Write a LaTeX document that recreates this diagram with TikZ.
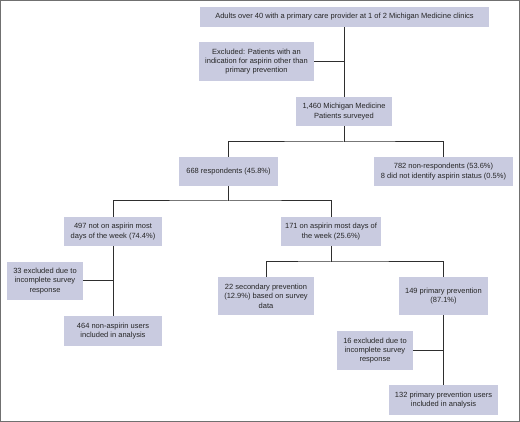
\documentclass[tikz,border=0pt]{standalone}
\usepackage{fontspec}
\setmainfont{Liberation Sans}
\definecolor{boxfill}{HTML}{C9CBE0}
\definecolor{linecol}{HTML}{2E2E2E}
\definecolor{framecol}{HTML}{707070}
\begin{document}
\begin{tikzpicture}[x=1pt,y=-1pt,
  box/.style={fill=boxfill,draw=none,inner sep=0pt,align=center,
    font=\fontsize{7.5}{9.4}\selectfont,text=black!85},
  conn/.style={draw=linecol,line width=1pt}]
\useasboundingbox (0,0) rectangle (520,422);
\draw[framecol,line width=1.4pt] (0.7,0.7) rectangle (519.3,421.3);

\node[box,minimum width=289pt,minimum height=20pt] (b1) at (344.5,17) {Adults over 40 with a primary care provider at 1 of 2 Michigan Medicine clinics};
\node[box,minimum width=115pt,minimum height=39pt] (excl) at (256.5,61.5) {Excluded: Patients with an\\indication for aspirin other than\\primary prevention};
\node[box,minimum width=96pt,minimum height=29pt] (n1460) at (344,111.5) {1,460 Michigan Medicine\\Patients surveyed};
\node[box,minimum width=99pt,minimum height=29pt] (resp) at (228.5,171.5) {668 respondents (45.8\%)};
\node[box,minimum width=139pt,minimum height=29pt] (nonresp) at (443.5,171.5) {782 non-respondents (53.6\%)\\8 did not identify aspirin status (0.5\%)};
\node[box,minimum width=98pt,minimum height=29pt] (no) at (113,231.5) {497 not on aspirin most\\days of the week (74.4\%)};
\node[box,minimum width=100pt,minimum height=29pt] (yes) at (331,231.5) {171 on aspirin most days of\\the week (25.6\%)};
\node[box,minimum width=96pt,minimum height=38pt] (sec) at (266,296) {22 secondary prevention\\(12.9\%) based on survey\\data};
\node[box,minimum width=89pt,minimum height=38pt] (prim) at (443.5,296) {149 primary prevention\\(87.1\%)};
\node[box,minimum width=76pt,minimum height=38pt] (ex33) at (45,281) {33 excluded due to\\incomplete survey\\response};
\node[box,minimum width=98pt,minimum height=30pt] (u464) at (113,331) {464 non-aspirin users\\included in analysis};
\node[box,minimum width=76pt,minimum height=39pt] (ex16) at (375,350.5) {16 excluded due to\\incomplete survey\\response};
\node[box,minimum width=109pt,minimum height=30pt] (u132) at (443.5,400) {132 primary prevention users\\included in analysis};

\coordinate (j1) at (344,142);
\coordinate (j2) at (228.5,201);
\coordinate (j3) at (331,262);

\draw[conn] (b1.south -| n1460.north) -- (n1460.north);
\draw[conn] (excl.east) -- (excl.east -| n1460.north);
\draw[conn] (n1460.south) -- (j1);
\draw[conn] (resp.north) |- (j1) -| (nonresp.north);
\draw[conn] (resp.south) -- (j2);
\draw[conn] (no.north) |- (j2) -| (yes.north);
\draw[conn] (yes.south) -- (j3);
\draw[conn] (sec.north) |- (j3) -| (prim.north);
\draw[conn] (no.south) -- (u464.north);
\draw[conn] (ex33.east) -- (ex33.east -| no.south);
\draw[conn] (prim.south) -- (u132.north);
\draw[conn] (ex16.east) -- (ex16.east -| prim.south);
\end{tikzpicture}
\end{document}
